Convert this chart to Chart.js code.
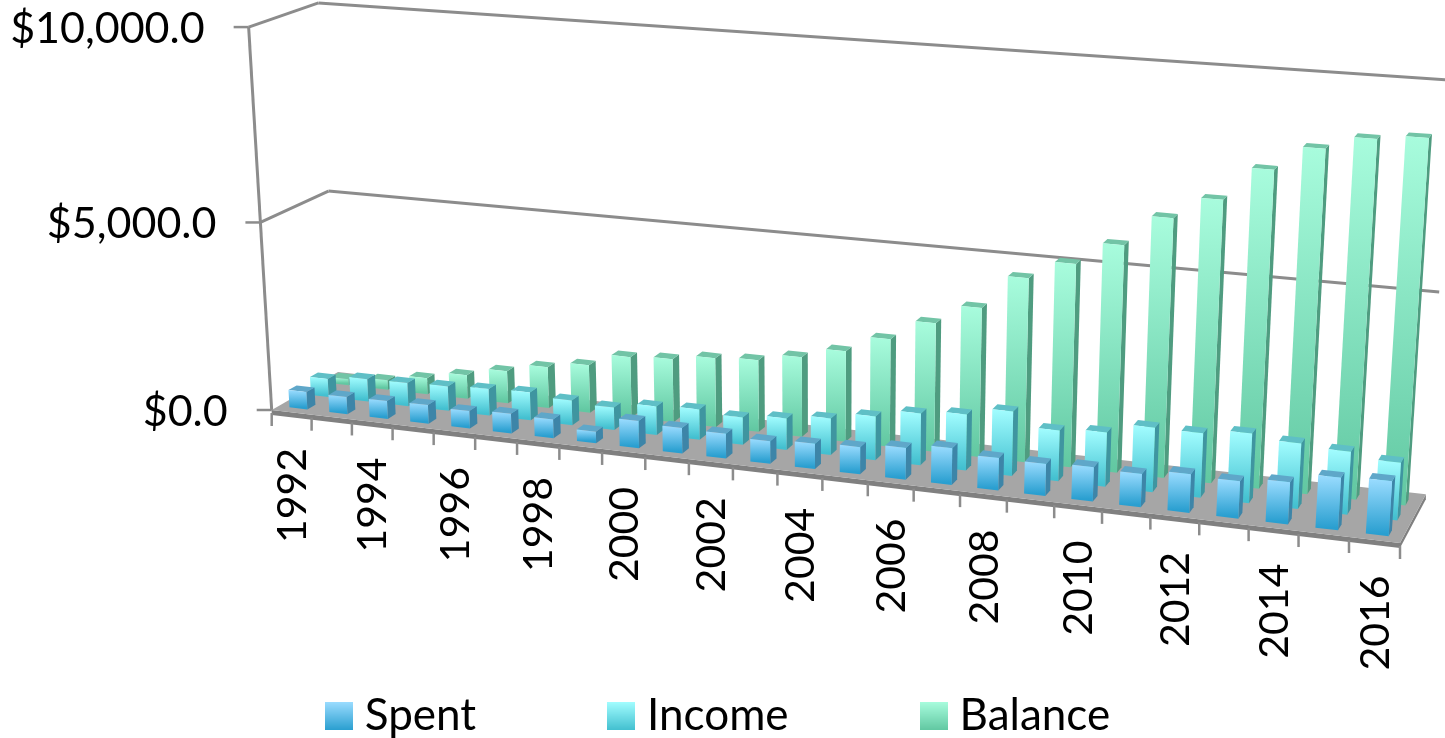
<!DOCTYPE html>
<html lang="en">
<head>
    <meta charset="UTF-8">
    <title>Spent, Income, Balance</title>
    <script src="https://cdn.jsdelivr.net/npm/chart.js@4/dist/chart.umd.min.js"></script>
    <style>
        html, body { margin: 0; padding: 0; background: #fff; overflow: hidden; }
        canvas { display: block; }
    </style>
</head>
<body>
    <canvas id="chart" width="1445" height="738"></canvas>
    <script>
        const years = [1992, 1993, 1994, 1995, 1996, 1997, 1998, 1999, 2000, 2001, 2002, 2003, 2004,
                       2005, 2006, 2007, 2008, 2009, 2010, 2011, 2012, 2013, 2014, 2015, 2016];
        const spent = [472, 464, 481, 500, 465, 520, 500, 308, 716, 662, 644, 584, 647,
                       694, 809, 934, 818, 807, 859, 827, 959, 921, 1033, 1280, 1335];
        const income = [491, 613, 629, 662, 714, 749, 660, 598, 753, 802, 719, 820, 947,
                        1130, 1333, 1434, 1638, 1290, 1369, 1621, 1612, 1734, 1624, 1552, 1417];
        const balance = [168, 263, 441, 645, 877, 1105, 1280, 1617, 1683, 1828, 1896, 2093, 2368,
                         2796, 3320, 3820, 4680, 5140, 5710, 6470, 7010, 7820, 8410, 8730, 8840];
        const yTicks = [0, 5000, 10000];
        const yLabels = ['$0.0', '$5,000.0', '$10,000.0'];

        const FONT = 'Lato, "Open Sans", sans-serif';

        // projection of the unit box (u along years, v up the value axis, w into the depth)
        function project(u, v, w) {
            const h = 1 - 0.12 * u - 0.04 * v + 0.04 * w;
            return {
                x: (271.7 + 960.3 * u - 33 * v + 79.8 * w) / h,
                y: (410 + 67.84 * u - 384 * v - 23.1 * w) / h
            };
        }

        function poly(ctx, pts, fill) {
            ctx.beginPath();
            pts.forEach((p, i) => i ? ctx.lineTo(p.x, p.y) : ctx.moveTo(p.x, p.y));
            ctx.closePath();
            ctx.fillStyle = fill;
            ctx.fill();
        }

        function line(ctx, a, b, color, width) {
            ctx.beginPath();
            ctx.moveTo(a.x, a.y);
            ctx.lineTo(b.x, b.y);
            ctx.strokeStyle = color;
            ctx.lineWidth = width;
            ctx.stroke();
        }

        // colours per series: light top of front, dark bottom of front, top face, side face
        const faces = [
            { hi: '#9adcff', lo: '#2a9fd0', top: '#5fa7c9', side: '#3d85a8' },
            { hi: '#a2fdff', lo: '#43c0d0', top: '#5fbfc6', side: '#3f95a0' },
            { hi: '#a8fcdd', lo: '#62c8a2', top: '#72c4a6', side: '#4f9c80' }
        ];
        const depthStart = [0.10, 0.42, 0.73];
        const depthSize = 0.12;

        const box3d = {
            id: 'box3d',
            beforeDatasetsDraw(chart) {
                const ctx = chart.ctx;
                ctx.save();
                const wallColor = '#8c8c8c';
                // back wall and left wall grid lines
                yTicks.forEach(t => {
                    const v = t / 10000;
                    if (t > 0) {
                        line(ctx, project(0, v, 0), project(0, v, 1), wallColor, 3);
                        line(ctx, project(0, v, 1), project(1, v, 1), wallColor, 3);
                    }
                    const p = project(0, v, 0);
                    line(ctx, { x: p.x - 15, y: p.y }, p, wallColor, 2.5);
                    ctx.fillStyle = '#000';
                    ctx.font = '43px ' + FONT;
                    ctx.textAlign = 'right';
                    ctx.textBaseline = 'middle';
                    ctx.fillText(yLabels[yTicks.indexOf(t)], p.x - 44, p.y + 2);
                });
                line(ctx, project(0, 0, 0), project(0, 1, 0), wallColor, 3);

                // floor slab
                const a = project(0, 0, 0), b = project(1, 0, 0), c = project(1, 0, 1), d = project(0, 0, 1);
                const dn = 5;
                poly(ctx, [a, b, { x: b.x, y: b.y + dn }, { x: a.x, y: a.y + dn }], '#808080');
                poly(ctx, [b, c, { x: c.x, y: c.y + dn }, { x: b.x, y: b.y + dn }], '#808080');
                poly(ctx, [a, b, c, d], '#a6a6a6');

                // category ticks and labels under the front edge
                const n = years.length;
                for (let i = 0; i <= n; i++) {
                    const p = project(i / n, 0, 0);
                    line(ctx, { x: p.x, y: p.y + 3 }, { x: p.x, y: p.y + 16 }, wallColor, 2.5);
                }
                const xs = chart.scales.x;
                years.forEach((yr, i) => {
                    if (i % 2) return;
                    const p = project((xs.getPixelForValue(i) - xs.left) / xs.width, 0, 0);
                    ctx.save();
                    ctx.translate(p.x + 1, p.y + 35.5);
                    ctx.rotate(-Math.PI / 2);
                    ctx.fillStyle = '#000';
                    ctx.font = '41px ' + FONT;
                    ctx.textAlign = 'right';
                    ctx.textBaseline = 'middle';
                    ctx.fillText(String(yr), 0, 0);
                    ctx.restore();
                });

                // bars, far rows first
                for (let s = 2; s >= 0; s--) {
                    const meta = chart.getDatasetMeta(s);
                    const ys = chart.scales.y;
                    const w0 = depthStart[s], w1 = w0 + depthSize;
                    meta.data.forEach(el => {
                        const u0 = (el.x - el.width / 2 - xs.left) / xs.width;
                        const u1 = (el.x + el.width / 2 - xs.left) / xs.width;
                        const v = (ys.bottom - el.y) / (ys.bottom - ys.top);
                        const f = faces[s];
                        const fbl = project(u0, 0, w0), fbr = project(u1, 0, w0);
                        const ftl = project(u0, v, w0), ftr = project(u1, v, w0);
                        const bbr = project(u1, 0, w1), btr = project(u1, v, w1), btl = project(u0, v, w1);
                        poly(ctx, [ftr, btr, bbr, fbr], f.side);
                        poly(ctx, [ftl, btl, btr, ftr], f.top);
                        const g = ctx.createLinearGradient(0, ftl.y, 0, fbl.y);
                        g.addColorStop(0, f.hi);
                        g.addColorStop(1, f.lo);
                        poly(ctx, [ftl, ftr, fbr, fbl], g);
                    });
                }
                ctx.restore();
            }
        };

        function swatch(hi, lo) {
            const c = document.createElement('canvas');
            c.width = 28;
            c.height = 28;
            const x = c.getContext('2d');
            const g = x.createLinearGradient(0, 0, 0, 28);
            g.addColorStop(0, hi);
            g.addColorStop(1, lo);
            x.fillStyle = g;
            x.fillRect(0, 0, 28, 28);
            return c;
        }

        const hidden = 'rgba(0,0,0,0)';
        new Chart(document.getElementById('chart'), {
            type: 'bar',
            data: {
                labels: years,
                datasets: [
                    { label: 'Spent', data: spent, backgroundColor: hidden },
                    { label: 'Income', data: income, backgroundColor: hidden },
                    { label: 'Balance', data: balance, backgroundColor: hidden }
                ]
            },
            options: {
                responsive: false,
                animation: false,
                grouped: false,
                barPercentage: 0.45,
                categoryPercentage: 1,
                layout: { padding: { bottom: -10 } },
                scales: {
                    x: { display: false },
                    y: { display: false, min: 0, max: 10000 }
                },
                plugins: {
                    tooltip: { enabled: false },
                    legend: {
                        position: 'bottom',
                        labels: {
                            color: '#000',
                            font: { family: FONT, size: 44 },
                            padding: 141,
                            usePointStyle: true,
                            pointStyleWidth: 8,
                            boxHeight: 20,
                            generateLabels: chart => chart.data.datasets.map((ds, i) => ({
                                text: ds.label,
                                datasetIndex: i,
                                pointStyle: swatch(faces[i].hi, faces[i].lo),
                                fillStyle: faces[i].hi,
                                strokeStyle: faces[i].hi,
                                lineWidth: 0
                            }))
                        }
                    }
                }
            },
            plugins: [box3d]
        });
    </script>
</body>
</html>
